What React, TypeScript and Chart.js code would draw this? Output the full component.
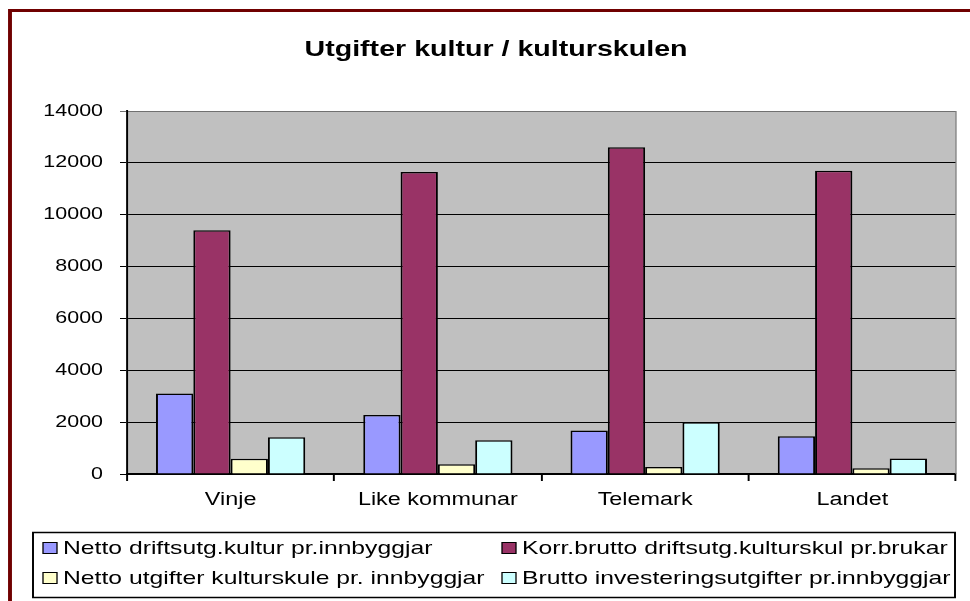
import React, { useEffect, useRef } from "react";
import { Chart, registerables } from "chart.js";

Chart.register(...registerables);

const categories = ["Vinje", "Like kommunar", "Telemark", "Landet"];
const seriesLabels = [
  "Netto driftsutg.kultur pr.innbyggjar",
  "Korr.brutto driftsutg.kulturskul pr.brukar",
  "Netto utgifter kulturskule pr. innbyggjar",
  "Brutto investeringsutgifter pr.innbyggjar",
];
const nettoDrift = [3100, 2280, 1680, 1460];
const korrBrutto = [9400, 11650, 12600, 11700];
const nettoSkule = [590, 380, 270, 220];
const bruttoInv = [1420, 1300, 2000, 600];
const seriesColors = ["#9999FF", "#993366", "#FFFFCC", "#CCFFFF"];
const titleText = "Utgifter kultur / kulturskulen";

const REAL_W = 970;
const H = 601;
const W = 746; // logical width, stretched to REAL_W
const SX = REAL_W / W;
const FONT = '"Liberation Sans", Arial, sans-serif';

export default function App() {
  const ref = useRef<HTMLCanvasElement | null>(null);

  useEffect(() => {
    document.body.style.margin = "0";
    document.body.style.overflow = "hidden";
    const canvas = ref.current!;
    const seriesData = [nettoDrift, korrBrutto, nettoSkule, bruttoInv];

    const framePlugin = {
      id: "frame",
      beforeDraw(chart: any) {
        const ctx = chart.ctx;
        ctx.setTransform(SX, 0, 0, 1, 0, 0);
        ctx.save();
        ctx.fillStyle = "#ffffff";
        ctx.fillRect(0, 0, W, H);
        const a = chart.chartArea;
        ctx.fillStyle = "#C0C0C0";
        ctx.fillRect(a.left, a.top, a.right - a.left, a.bottom - a.top);
        ctx.restore();
      },
      beforeDatasetsDraw(chart: any) {
        const ctx = chart.ctx;
        const a = chart.chartArea;
        ctx.save();
        ctx.strokeStyle = "#808080";
        ctx.lineWidth = 1;
        ctx.beginPath();
        ctx.moveTo(a.right, a.top);
        ctx.lineTo(a.right, a.bottom);
        ctx.stroke();
        ctx.restore();
      },
      afterDraw(chart: any) {
        const ctx = chart.ctx;
        ctx.save();
        // outer frame
        ctx.strokeStyle = "#700000";
        ctx.lineWidth = 3;
        ctx.strokeRect(10 / SX, 10.5, W + 20, H + 20);
        // title
        ctx.fillStyle = "#000";
        ctx.font = `bold 22px ${FONT}`;
        ctx.textAlign = "center";
        ctx.textBaseline = "middle";
        ctx.fillText(titleText, 496 / SX, 50);
        // legend
        const lx0 = 33 / SX;
        const lx1 = 955 / SX;
        const ly0 = 532.5;
        const ly1 = 597.5;
        ctx.strokeStyle = "#000";
        ctx.lineWidth = 1.5;
        ctx.strokeRect(lx0, ly0, lx1 - lx0, ly1 - ly0);
        const cols = [43 / SX, 502 / SX];
        const rows = [548, 578];
        ctx.font = `19px ${FONT}`;
        ctx.textAlign = "left";
        chart.data.datasets.forEach((ds: any, i: number) => {
          const x = cols[i % 2];
          const y = rows[Math.floor(i / 2)];
          ctx.fillStyle = ds.backgroundColor;
          ctx.fillRect(x, y - 5.5, 14 / SX, 11);
          ctx.lineWidth = 1;
          ctx.strokeStyle = "#000";
          ctx.strokeRect(x, y - 5.5, 14 / SX, 11);
          ctx.fillStyle = "#000";
          ctx.fillText(ds.label, x + 20 / SX, y + 1);
        });
        ctx.restore();
      },
    };

    const chart = new Chart(canvas, {
      type: "bar",
      data: {
        labels: categories,
        datasets: seriesLabels.map((label, i) => ({
          label,
          data: seriesData[i],
          backgroundColor: seriesColors[i],
          borderColor: "#000",
          borderWidth: 1.5,
          categoryPercentage: 0.72,
          barPercentage: 1.0,
        })),
      },
      options: {
        responsive: false,
        animation: false,
        devicePixelRatio: 1,
        events: [],
        layout: {
          padding: { left: 0, top: 111, right: W - 956 / SX, bottom: 0 },
        },
        plugins: {
          legend: { display: false },
          title: { display: false },
          tooltip: { enabled: false },
        },
        scales: {
          x: {
            afterFit: (scale: any) => {
              scale.height = H - 474;
            },
            grid: {
              offset: true,
              drawOnChartArea: false,
              drawTicks: true,
              tickLength: 7,
              color: "#000",
              lineWidth: 1.5,
            },
            border: { color: "#000", width: 2 },
            ticks: {
              color: "#000",
              font: { family: FONT, size: 18 },
              padding: 8,
            },
          },
          y: {
            min: 0,
            max: 14000,
            afterFit: (scale: any) => {
              scale.width = 127 / SX;
            },
            grid: {
              color: (c: any) =>
                c.tick && c.tick.value === 14000 ? "#707070" : "#000",
              lineWidth: 1,
              tickLength: 7 / SX,
              drawTicks: true,
            },
            border: { color: "#000", width: 1.5 },
            ticks: {
              stepSize: 2000,
              color: "#000",
              font: { family: FONT, size: 16.5 },
              padding: (127 - 7 - 103) / SX,
              callback: (v: any) => String(v),
            },
          },
        },
      },
      plugins: [framePlugin],
    } as any);

    canvas.width = REAL_W;
    canvas.height = H;
    chart.draw();

    return () => chart.destroy();
  }, []);

  return (
    <canvas
      ref={ref}
      width={W}
      height={H}
      style={{ display: "block", width: REAL_W + "px", height: H + "px" }}
    />
  );
}
